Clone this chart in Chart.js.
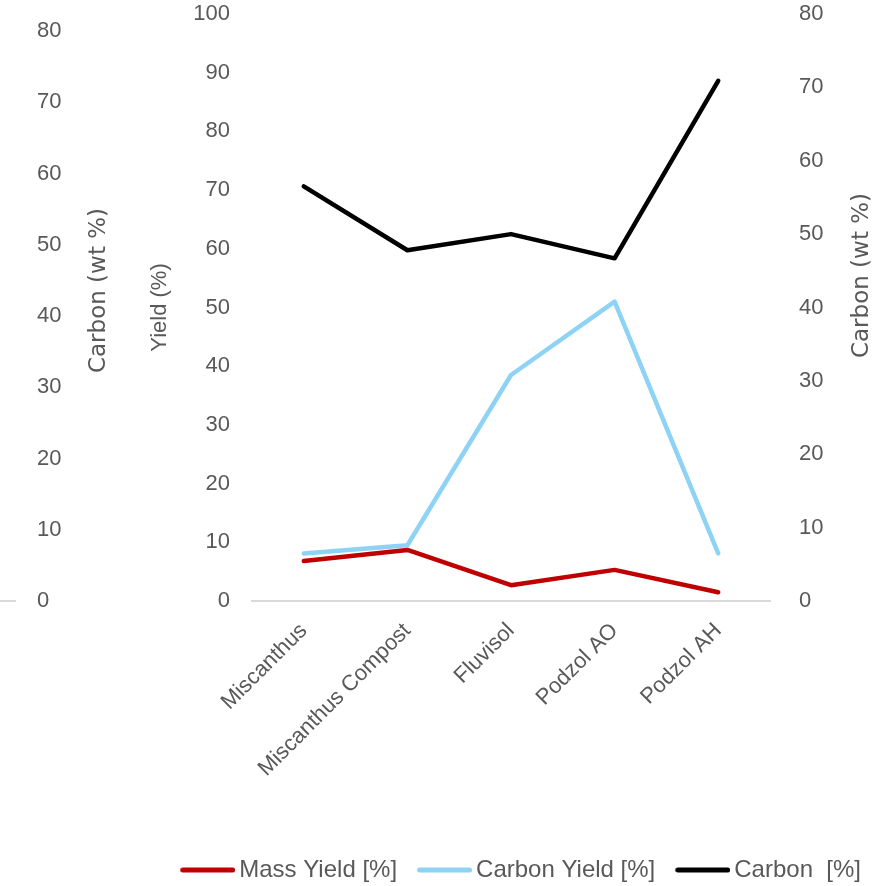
<!DOCTYPE html>
<html>
<head>
<meta charset="utf-8">
<script src="https://cdn.jsdelivr.net/npm/chart.js@4/dist/chart.umd.min.js"></script>
<style>
  html, body { margin: 0; padding: 0; background: #ffffff; overflow: hidden; }
  #wrap { width: 881px; height: 886px; }
</style>
</head>
<body>
<div id="wrap"><canvas id="chart" width="881" height="886"></canvas></div>
<script>
// Samples along the x axis
const categories = ['Miscanthus', 'Miscanthus Compost', 'Fluvisol', 'Podzol AO', 'Podzol AH'];

// Series values
const massYield = [6.8, 8.7, 2.7, 5.3, 1.5];        // Yield (%)
const carbonYield = [8.1, 9.5, 38.5, 51.0, 8.1];    // Yield (%)
const carbonContent = [56.5, 47.8, 50.0, 46.7, 70.9]; // Carbon (wt %)

// Tick values of the outer carbon axis
const carbonTicks = [0, 10, 20, 30, 40, 50, 60, 70, 80];

const TEXT = '#595959';
const FONT = 'Liberation Sans, Arial, Helvetica, sans-serif';
const TITLE_FONT = 'DejaVu Sans, Liberation Sans, sans-serif';
Chart.defaults.font.family = FONT;
Chart.defaults.color = TEXT;

// Legend swatch: a short rounded line, slightly wider than the layout box
function swatch(color) {
  const c = document.createElement('canvas');
  c.width = 63; c.height = 6;
  const g = c.getContext('2d');
  g.strokeStyle = color;
  g.lineWidth = 5;
  g.lineCap = 'round';
  g.beginPath();
  g.moveTo(10.5, 3);
  g.lineTo(60.5, 3);
  g.stroke();
  return c;
}

// Rotated axis titles that read bottom-to-top on both sides
const sideTitles = {
  id: 'sideTitles',
  afterDraw(chart, args, opts) {
    const { ctx, chartArea } = chart;
    ctx.save();
    ctx.font = opts.size + 'px ' + TITLE_FONT;
    ctx.fillStyle = TEXT;
    ctx.textAlign = 'center';
    ctx.textBaseline = 'middle';
    for (const t of opts.items) {
      const s = chart.scales[t.scale];
      const x = s.right + t.dx;
      const y = (chartArea.top + chartArea.bottom) / 2 + t.dy;
      ctx.save();
      ctx.translate(x, y);
      ctx.rotate(-Math.PI / 2);
      ctx.fillText(t.text, 0, 0);
      ctx.restore();
    }
    ctx.restore();
  }
};

// Short baseline stub beside the outer carbon axis
const axisStub = {
  id: 'axisStub',
  beforeDraw(chart) {
    const s = chart.scales.y3;
    const y = s.getPixelForValue(0);
    const ctx = chart.ctx;
    ctx.save();
    ctx.strokeStyle = '#d9d9d9';
    ctx.lineWidth = 2;
    ctx.beginPath();
    ctx.moveTo(0, y);
    ctx.lineTo(s.left - 21, y);
    ctx.stroke();
    ctx.restore();
  }
};

// Nudge the legend row down a little
const legendNudge = {
  id: 'legendNudge',
  afterLayout(chart) {
    if (chart.legend) { chart.legend.top += 6; chart.legend.bottom += 6; }
  }
};

const tickFont = { size: 22, family: FONT };

new Chart(document.getElementById('chart'), {
  type: 'line',
  data: {
    labels: categories,
    datasets: [
      { label: 'Mass Yield [%]', data: massYield, yAxisID: 'y',
        borderColor: '#C00000', backgroundColor: '#C00000' },
      { label: 'Carbon Yield [%]', data: carbonYield, yAxisID: 'y',
        borderColor: '#8ED3F5', backgroundColor: '#8ED3F5' },
      { label: 'Carbon  [%]', data: carbonContent, yAxisID: 'y2',
        borderColor: '#000000', backgroundColor: '#000000' }
    ]
  },
  options: {
    responsive: false,
    animation: false,
    devicePixelRatio: 1,
    layout: { padding: { left: 37, top: 14, right: 0, bottom: 0 } },
    elements: {
      line: { borderWidth: 4.5, tension: 0, borderCapStyle: 'round', borderJoinStyle: 'round', fill: false },
      point: { radius: 0, hoverRadius: 0 }
    },
    scales: {
      x: {
        type: 'category',
        offset: true,
        grid: { display: false, drawTicks: false },
        border: { display: true, color: '#d9d9d9', width: 2 },
        ticks: { font: tickFont, color: TEXT, minRotation: 45, maxRotation: 45, padding: 17, autoSkip: false },
        afterFit(s) { s.height = 231; }
      },
      y: {
        position: 'left',
        weight: 1,
        min: 0, max: 100,
        ticks: { stepSize: 10, padding: 0, font: tickFont, color: TEXT },
        grid: { display: false, drawTicks: true, tickLength: 22 },
        border: { display: false },
        title: { display: true, text: 'Yield (%)', color: TEXT, font: tickFont, padding: { top: 17, bottom: 0 } },
        afterFit(s) { s.width = 122; }
      },
      y3: {
        position: 'left',
        weight: 2,
        min: 0, max: 82.4,
        afterBuildTicks(s) { s.ticks = carbonTicks.map(v => ({ value: v })); },
        ticks: { crossAlign: 'far', padding: 0, font: tickFont, color: TEXT },
        grid: { display: false, drawTicks: false },
        border: { display: false },
        afterFit(s) { s.width = 93; }
      },
      y2: {
        position: 'right',
        min: 0, max: 80,
        ticks: { stepSize: 10, padding: 0, font: tickFont, color: TEXT },
        grid: { display: false, drawTicks: true, tickLength: 29 },
        border: { display: false },
        afterFit(s) { s.width = 111; }
      }
    },
    plugins: {
      legend: {
        position: 'bottom',
        align: 'end',
        labels: {
          usePointStyle: true,
          pointStyleWidth: 47,
          padding: 20,
          color: TEXT,
          font: { size: 24, family: FONT },
          generateLabels(chart) {
            const items = Chart.defaults.plugins.legend.labels.generateLabels(chart);
            return items.map(it => Object.assign(it, { pointStyle: swatch(it.strokeStyle), lineWidth: 0 }));
          }
        }
      },
      tooltip: { enabled: false },
      sideTitles: {
        size: 23,
        items: [
          { scale: 'y3', text: 'Carbon (wt %)', dx: -31, dy: -17 },
          { scale: 'y2', text: 'Carbon (wt %)', dx: -19, dy: -32 }
        ]
      }
    }
  },
  plugins: [sideTitles, axisStub, legendNudge]
});
</script>
</body>
</html>
